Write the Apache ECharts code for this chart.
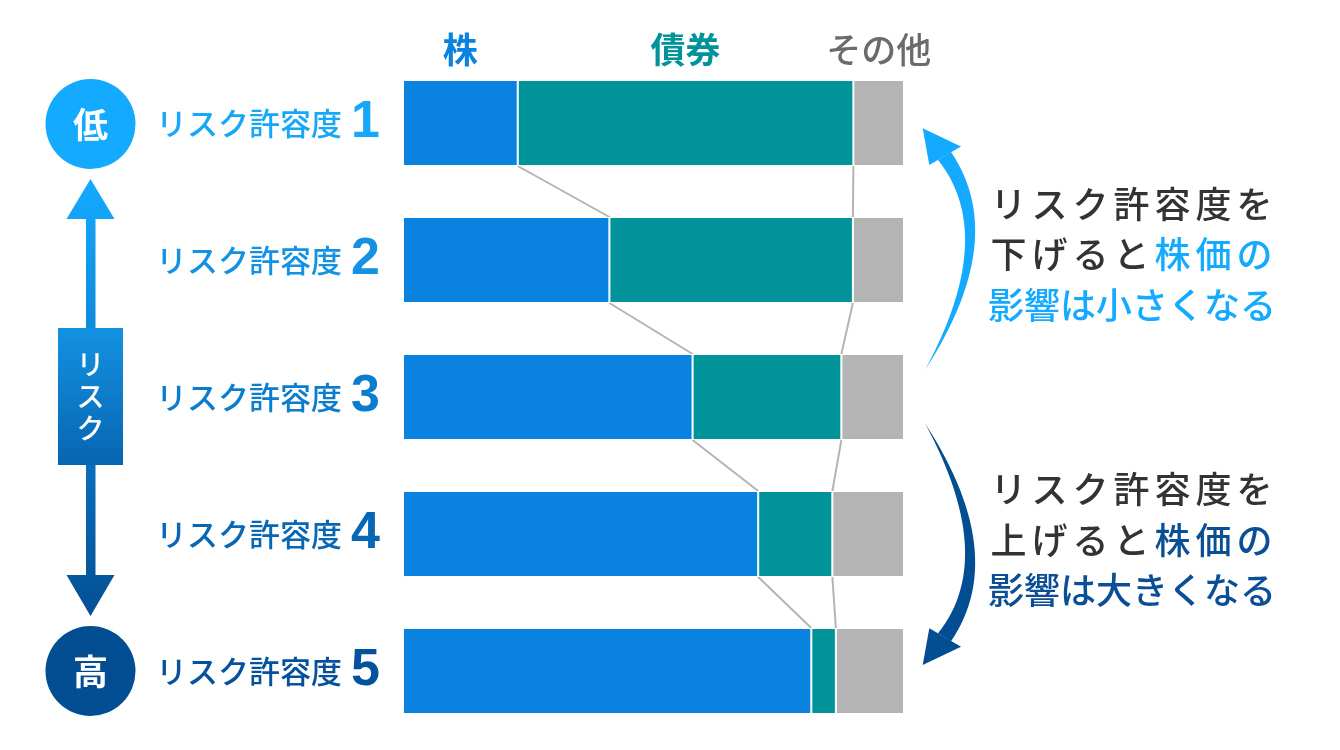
<!DOCTYPE html>
<html><head><meta charset="utf-8">
<script src="https://cdn.jsdelivr.net/npm/echarts@6/dist/echarts.min.js"></script>
<style>html,body{margin:0;padding:0;background:#fff}#c{width:1340px;height:750px}</style>
</head><body><div id="c"></div>
<script>
// ---- data ----
const levelPrefix = 'リスク許容度';
const levels = ['1', '2', '3', '4', '5'];
const seriesNames = ['株', '債券', 'その他'];
const stockShare = [22.9, 41.2, 57.8, 70.9, 81.5];
const bondShare  = [67.0, 48.6, 29.7, 14.8, 4.9];
const otherShare = [10.1, 10.2, 12.5, 14.3, 13.6];
const lowLabel = '低';
const highLabel = '高';
const riskLabel = 'リスク';
const noteLowerRisk = [['リスク許容度を', ''], ['下げると', '株価の'], ['', '影響は小さくなる']];
const noteHigherRisk = [['リスク許容度を', ''], ['上げると', '株価の'], ['', '影響は大きくなる']];

// ---- styles ----
const FONT = '"Noto Sans CJK JP", "Noto Sans", sans-serif';
const segColors = ['#0a82e0', '#00939a', '#b4b4b4'];
const headColors = ['#0a82e0', '#00939a', '#6b6b6b'];
const rowColors = ['#17a7f8', '#1392e3', '#0b7dcd', '#0867b4', '#05519b'];
const LIGHT = '#14aaff', DARK = '#034d92';
const BAR_H = 86;

const chart = echarts.init(document.getElementById('c'), null, {renderer: 'canvas'});

const shares = [stockShare, bondShare, otherShare];
const barSeries = seriesNames.map((name, k) => ({
  type: 'bar', name, stack: 'total', barWidth: BAR_H, z: 3,
  itemStyle: {color: segColors[k], borderColor: '#ffffff', borderWidth: 1},
  data: shares[k].map((v, i) => i === 0 ? {
    value: v,
    label: {show: true, position: 'top', distance: 13, formatter: name,
      fontFamily: FONT, fontSize: 35, fontWeight: k < 2 ? 'bold' : 500, color: headColors[k]}
  } : v)
}));

const connectorData = [];
for (let i = 0; i < levels.length - 1; i++) {
  connectorData.push([i,
    stockShare[i], stockShare[i] + bondShare[i],
    stockShare[i + 1], stockShare[i + 1] + bondShare[i + 1]]);
}

const rich = {};
rowColors.forEach((c, i) => {
  rich['t' + i] = {fontFamily: FONT, fontSize: 31, fontWeight: 500, color: c, padding: [0, 9, 0, 0], verticalAlign: 'middle'};
  rich['n' + i] = {fontFamily: '"Liberation Sans", Arial, sans-serif', fontWeight: 'bold', fontSize: 52, color: c, verticalAlign: 'middle'};
});

// decorative curved arrows on the right
function quad(p0, p1, p2, n) {
  const pts = [];
  for (let j = 0; j <= n; j++) {
    const t = j / n, a = (1 - t) * (1 - t), b = 2 * t * (1 - t), c = t * t;
    pts.push([a * p0[0] + b * p1[0] + c * p2[0], a * p0[1] + b * p1[1] + c * p2[1]]);
  }
  return pts;
}
function crescent(mirrorY) {
  const tail = [925, 370];
  const outer = quad(tail, [1010, 239], [951, 152], 30);
  const inner = quad([938, 160], [998, 235], tail, 30);
  const pts = outer.concat(inner);
  const head = [[922.7, 128.3], [961, 146.5], [929.3, 165]];
  const f = p => mirrorY ? [p[0], mirrorY - p[1]] : p;
  return {body: pts.map(f), head: head.map(f)};
}
const upArc = crescent(null);
const downArc = crescent(793.3);

// right-hand notes: justified lines (7-char lines get extra spacing)
function noteText(lines, accent) {
  return lines.map(l => {
    const n = Array.from(l[0] + l[1]).length;
    const sfx = n >= 8 ? '0' : '';
    return Array.from(l[0]).map(c => `{k${sfx}|${c}}`).join('') +
           Array.from(l[1]).map(c => `{${accent}${sfx}|${c}}`).join('');
  }).join('\n');
}
const charStyle = (fill, pad) => ({fontFamily: FONT, fontSize: 36, fontWeight: 500, fill, padding: [0, pad, 0, pad], lineHeight: 50.5});
const noteRich = {
  k: charStyle('#333333', 2.5), u: charStyle(LIGHT, 2.5), d: charStyle('#0a4f95', 2.5),
  k0: charStyle('#333333', 0), u0: charStyle(LIGHT, 0), d0: charStyle('#0a4f95', 0)
};

const arrowGrad = {type: 'linear', x: 0, y: 179, x2: 0, y2: 616, global: true,
  colorStops: [{offset: 0, color: '#14aaff'}, {offset: 1, color: '#044f95'}]};
const boxGrad = {type: 'linear', x: 0, y: 0, x2: 0, y2: 1,
  colorStops: [{offset: 0, color: '#1392e2'}, {offset: 1, color: '#0765b2'}]};

const option = {
  animation: false,
  backgroundColor: '#ffffff',
  grid: {left: 403, right: 436, top: 54.5, bottom: 10.5, containLabel: false},
  xAxis: {type: 'value', min: 0, max: 100, show: false},
  yAxis: {
    type: 'category', data: levels, inverse: true,
    axisLine: {show: false}, axisTick: {show: false}, splitLine: {show: false},
    axisLabel: {margin: 23, rich,
      formatter: (v, idx) => `{t${idx}|${levelPrefix}}{n${idx}|${v}}`}
  },
  series: [
    ...barSeries,
    {
      type: 'custom', z: 1, silent: true,
      encode: {x: [1, 2, 3, 4], y: 0},
      data: connectorData,
      renderItem: (params, api) => {
        const i = api.value(0);
        const lineStyle = {stroke: '#b4b4b4', lineWidth: 2};
        const kids = [];
        for (let k = 0; k < 2; k++) {
          const a = api.coord([api.value(1 + k), i]);
          const b = api.coord([api.value(3 + k), i + 1]);
          kids.push({type: 'line', shape: {x1: a[0], y1: a[1] + BAR_H / 2, x2: b[0], y2: b[1] - BAR_H / 2}, style: lineStyle});
        }
        return {type: 'group', children: kids};
      }
    }
  ],
  graphic: [
    {type: 'polygon', shape: {points: [[90.5, 179], [114.5, 219], [66.5, 219]]}, style: {fill: arrowGrad}},
    {type: 'rect', shape: {x: 86, y: 218, width: 9.5, height: 358}, style: {fill: arrowGrad}},
    {type: 'polygon', shape: {points: [[66.5, 575], [114.5, 575], [90.5, 616]]}, style: {fill: arrowGrad}},
    {type: 'rect', shape: {x: 58, y: 328, width: 65, height: 137}, style: {fill: boxGrad}},
    {type: 'text', x: 90.5, y: 396, style: {text: Array.from(riskLabel).join('\n'), fill: '#fff',
      font: `500 28px ${FONT}`, lineHeight: 32, align: 'center', verticalAlign: 'middle'}},
    {type: 'circle', shape: {cx: 90.5, cy: 124, r: 45}, style: {fill: LIGHT}},
    {type: 'text', x: 90.5, y: 125, style: {text: lowLabel, fill: '#fff', font: `bold 35px ${FONT}`, align: 'center', verticalAlign: 'middle'}},
    {type: 'circle', shape: {cx: 90.5, cy: 671, r: 45}, style: {fill: DARK}},
    {type: 'text', x: 90.5, y: 672, style: {text: highLabel, fill: '#fff', font: `bold 35px ${FONT}`, align: 'center', verticalAlign: 'middle'}},

    {type: 'polygon', shape: {points: upArc.body}, style: {fill: LIGHT}},
    {type: 'polygon', shape: {points: upArc.head}, style: {fill: LIGHT}},
    {type: 'polygon', shape: {points: downArc.body}, style: {fill: DARK}},
    {type: 'polygon', shape: {points: downArc.head}, style: {fill: DARK}},

    {type: 'text', x: 988, y: 254.5, style: {text: noteText(noteLowerRisk, 'u'), rich: noteRich, align: 'left', verticalAlign: 'middle'}},
    {type: 'text', x: 988, y: 540, style: {text: noteText(noteHigherRisk, 'd'), rich: noteRich, align: 'left', verticalAlign: 'middle'}}
  ]
};
chart.setOption(option);
</script>
</body></html>
